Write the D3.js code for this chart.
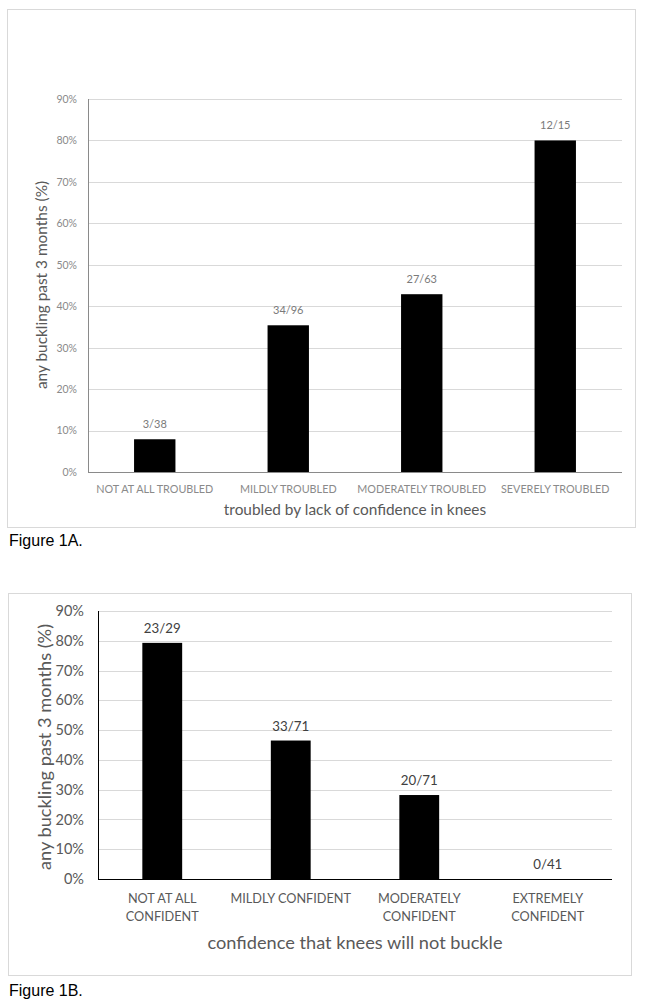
<!DOCTYPE html>
<html><head><meta charset="utf-8">
<script src="https://cdn.jsdelivr.net/npm/d3@7"></script>
<style>body{margin:0;background:#fff;} svg{display:block;}</style>
</head><body>
<svg id="c" width="645" height="1007"></svg>
<script>
// Figure 1A data
const catsA = ["NOT AT ALL TROUBLED", "MILDLY TROUBLED", "MODERATELY TROUBLED", "SEVERELY TROUBLED"];
const valsA = [7.9, 35.4, 42.9, 80.0];
const labelsA = ["3/38", "34/96", "27/63", "12/15"];
// Figure 1B data
const catsB = [["NOT AT ALL", "CONFIDENT"], ["MILDLY CONFIDENT"], ["MODERATELY", "CONFIDENT"], ["EXTREMELY", "CONFIDENT"]];
const valsB = [79.3, 46.5, 28.2, 0];
const labelsB = ["23/29", "33/71", "20/71", "0/41"];
const ticks = [0, 10, 20, 30, 40, 50, 60, 70, 80, 90];

const font = "Lato, 'Open Sans', sans-serif";
const svg = d3.select("#c");

function chart(o) {
  const g = svg.append("g");
  g.append("rect").attr("x", o.box[0] + 0.5).attr("y", o.box[1] + 0.5)
    .attr("width", o.box[2]).attr("height", o.box[3])
    .attr("fill", "#fff").attr("stroke", "#d9d9d9");
  const x = d3.scaleBand().domain(d3.range(o.cats.length)).range([o.left, o.right]).paddingInner(0.69).paddingOuter(0.345);
  const y = d3.scaleLinear().domain([0, 90]).range([o.bottom, o.top]);
  // grid
  g.selectAll(".grid").data(ticks.slice(1)).join("line")
    .attr("x1", o.left).attr("x2", o.right)
    .attr("y1", d => Math.round(y(d)) + 0.5).attr("y2", d => Math.round(y(d)) + 0.5)
    .attr("stroke", "#d9d9d9").attr("stroke-width", 1);
  // y axis
  const ya = d3.axisLeft(y).tickValues(ticks).tickFormat(d => d + "%").tickSize(0).tickPadding(o.tickPad);
  const yg = g.append("g").attr("transform", `translate(${o.left},0)`).call(ya);
  yg.select(".domain").remove();
  yg.selectAll("text").attr("font-family", font).attr("font-size", o.tickSize).attr("fill", o.tickColor);
  // bars
  g.selectAll(".bar").data(o.vals).join("rect")
    .attr("x", (d, i) => x(i)).attr("width", x.bandwidth())
    .attr("y", d => y(d)).attr("height", d => y(0) - y(d)).attr("fill", "#000");
  // data labels
  g.selectAll(".lab").data(o.labels).join("text")
    .attr("x", (d, i) => x(i) + x.bandwidth() / 2)
    .attr("y", (d, i) => y(o.vals[i]) - o.labOff)
    .attr("text-anchor", "middle").attr("font-family", font)
    .attr("font-size", o.labSize).attr("fill", o.labColor).text(d => d);
  // axis lines
  g.append("line").attr("x1", o.left + 0.5).attr("x2", o.left + 0.5).attr("y1", o.top).attr("y2", o.bottom + 0.5)
    .attr("stroke", o.axisColor);
  const xa = d3.axisBottom(x).tickSize(0).tickFormat("");
  const xg = g.append("g").attr("transform", `translate(0,${Math.round(o.bottom) + 0.5})`).call(xa);
  xg.select(".domain").attr("stroke", o.axisColor).attr("d", `M${o.left},0H${o.right}`);
  // category labels
  o.cats.forEach((c, i) => {
    const lines = Array.isArray(c) ? c : [c];
    lines.forEach((t, j) => {
      g.append("text").attr("x", x(i) + x.bandwidth() / 2).attr("y", o.catY + j * o.catLine)
        .attr("text-anchor", "middle").attr("font-family", font).attr("font-size", o.catSize)
        .attr("fill", o.tickColor).text(t);
    });
  });
  // axis titles
  g.append("text").attr("x", o.xTitle[0]).attr("y", o.xTitle[1]).attr("text-anchor", "middle")
    .attr("font-family", font).attr("font-size", o.titleSize).attr("fill", "#595959").text(o.xTitleText);
  g.append("text").attr("transform", `translate(${o.yTitle[0]},${o.yTitle[1]}) rotate(-90)`).attr("text-anchor", "middle")
    .attr("font-family", font).attr("font-size", o.titleSize).attr("fill", "#595959").text(o.yTitleText);
  // figure caption
  g.append("text").attr("x", 9).attr("y", o.capY).attr("font-family", "Liberation Sans, Arial, sans-serif")
    .attr("font-size", 16).attr("fill", "#000").text(o.caption);
}

chart({
  box: [7, 9, 628, 518], left: 88, right: 622, top: 99, bottom: 472,
  cats: catsA, vals: valsA, labels: labelsA,
  tickPad: 11, tickSize: 10.5, tickColor: "#8a8a8a", labSize: 11, labColor: "#7a7a7a", labOff: 11,
  axisColor: "#8a8a8a", catY: 493, catLine: 0, catSize: 10.8,
  xTitle: [355, 515], yTitle: [47, 285], titleSize: 15.4,
  xTitleText: "troubled by lack of confidence in knees", yTitleText: "any buckling past 3 months (%)",
  capY: 546, caption: "Figure 1A."
});
chart({
  box: [8, 593, 623, 382], left: 98, right: 612, top: 611, bottom: 879,
  cats: catsB, vals: valsB, labels: labelsB,
  tickPad: 14, tickSize: 14.5, tickColor: "#595959", labSize: 13.3, labColor: "#404040", labOff: 10,
  axisColor: "#000", catY: 903, catLine: 18, catSize: 12.7,
  xTitle: [355, 949], yTitle: [51, 747], titleSize: 18.2,
  xTitleText: "confidence that knees will not buckle", yTitleText: "any buckling past 3 months (%)",
  capY: 996, caption: "Figure 1B."
});
</script>
</body></html>
